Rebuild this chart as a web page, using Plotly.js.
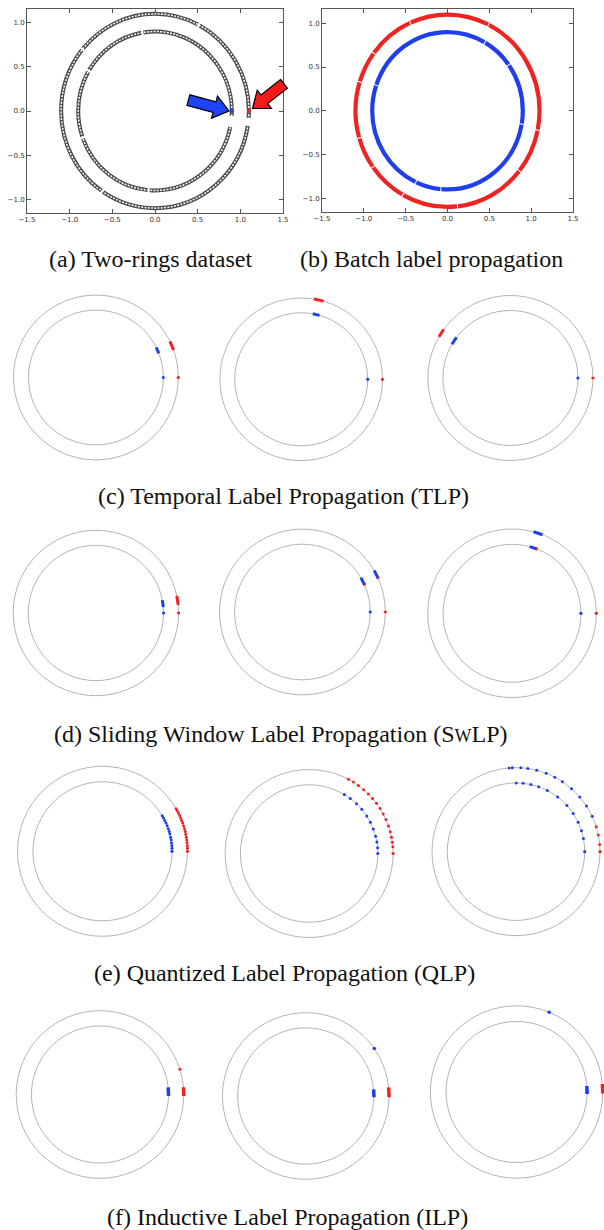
<!DOCTYPE html>
<html><head><meta charset="utf-8">
<script src="https://cdn.plot.ly/plotly-3.0.1.min.js"></script>
<style>html,body{margin:0;padding:0;background:#fff}#fig{width:604px;height:1230px}</style>
</head><body><div id="fig"></div>
<script>
// ---------- data (angles in degrees, radii in data units) ----------
const ringRadii = [0.9, 1.1];              // inner ring, outer ring
const labeledAngle = [0];                  // one labelled point per ring
const axisTickVals = [-1.5, -1.0, -0.5, 0.0, 0.5, 1.0, 1.5];
const axisTickText = ["\u22121.5", "\u22121.0", "\u22120.5", "0.0", "0.5", "1.0", "1.5"];
const yTickVals = [-1.0, -0.5, 0.0, 0.5, 1.0];
const yTickText = ["\u22121.0", "\u22120.5", "0.0", "0.5", "1.0"];

// (c) Temporal Label Propagation: three snapshots
const tlpOuterRed  = [[19.5, 22.5, 26], [74, 77.5, 81], [144, 147, 150]];
const tlpInnerBlue = [[21, 23.5, 26.5], [74, 77, 80], [143, 146.5, 150]];

// (d) Sliding Window Label Propagation
const swlpOuterRed  = [[5.5, 9, 12], [23.5, 25.5], []];
const swlpOuterBlue = [[], [24.5, 27, 30], [68.8, 72, 75.2]];
const swlpInnerRed  = [[], [23, 25], [68.2, 69.8]];
const swlpInnerBlue = [[5, 8, 11], [24, 27, 30.5], [69.5, 72, 75.1]];

// (e) Quantized Label Propagation (individual quantized points)
const qlpOuterRed = [
  [2, 3.8, 5.8, 7.7, 9.5, 11.5, 13.4, 15.3, 17.4, 19.4, 21.3, 23.1, 25, 26.8, 28.5, 30],
  [4.6, 7.7, 11.1, 15, 19.1, 23.8, 28.1, 32.3, 36.7, 41, 45.2, 49.5, 54.1, 58.2, 62],
  [5, 11.5, 17.3]];
const qlpOuterBlue = [[], [], [24.9, 32.9, 40.6, 48.6, 56.5, 62.5, 68.9, 75.7, 81.9, 86.7, 92.5, 94.7]];
const qlpInnerBlue = [
  [2.5, 4.7, 7.1, 9.5, 11.7, 14.3, 16.5, 18.9, 21.5, 24, 26.4, 28.7, 30.8],
  [4.9, 9.6, 14.6, 20.9, 27, 33, 40, 46.4, 53.2, 59.2],
  [11, 17.8, 25.3, 33.7, 42.2, 52.7, 62.9, 70.7, 77.5, 84, 89.8]];

// (f) Inductive Label Propagation
const ilpOuterRedSeg  = [[-1, 2, 5], [-0.5, 3, 6], [-0.9, 2, 5.3]];
const ilpInnerBlueSeg = [[-1, 2.5, 6], [-0.6, 2.5, 5.6], [-1.6, 1.5, 4.9]];
const ilpOuterRedDot  = [[17.6], [], []];
const ilpOuterBlueDot = [[], [34.7], [67.8]];

const captions = [
  "(a) Two-rings dataset",
  "(b) Batch label propagation",
  "(c) Temporal Label Propagation (TLP)",
  "(d) Sliding Window Label Propagation (S<span style='font-size:18px'>W</span>LP)",
  "(e) Quantized Label Propagation (QLP)",
  "(f) Inductive Label Propagation (ILP)"];

// ---------- layout helpers ----------
const W = 604, H = 1230;
const RED = '#f02222', BLUE = '#1f3ef0', RING = '#b4b4b4';
const fx = v => v / W, fy = v => 1 - v / H;
const ax = n => (n === 1 ? '' : String(n));

// panel centres / outer-ring pixel radius (layout only)
const panelGeom = [
  [95.9, 377.5, 82.4], [301.2, 379.3, 81.3], [510.4, 378, 82.5],
  [95.9, 613, 82.7], [302.4, 612, 82.9], [512, 613.3, 84.3],
  [102.5, 851.3, 85], [309.1, 853.5, 84], [516, 851.7, 84],
  [100, 1094.5, 83.8], [305.8, 1096, 83.3], [516.6, 1092, 86.2]];
const captionPos = [[150, 259], [431, 259], [283, 496], [281, 734], [284, 973], [287, 1217]];

const traces = [];
const shapes = [];
const layout = {
  width: W, height: H, margin: {l: 0, r: 0, t: 0, b: 0},
  paper_bgcolor: '#fff', plot_bgcolor: 'rgba(0,0,0,0)', showlegend: false,
  shapes: shapes, annotations: []
};

function pol(r, angs) {
  return {x: angs.map(a => r * Math.cos(a * Math.PI / 180)),
          y: angs.map(a => r * Math.sin(a * Math.PI / 180))};
}
function arc(n, r, angs, color, w) {
  if (!angs.length) return;
  const p = pol(r, angs);
  traces.push({type: 'scatter', mode: 'lines', x: p.x, y: p.y, xaxis: 'x' + ax(n), yaxis: 'y' + ax(n),
    line: {color: color, width: w}, hoverinfo: 'skip', cliponaxis: true});
}
function dots(n, r, angs, color, size) {
  if (!angs.length) return;
  const p = pol(r, angs);
  traces.push({type: 'scatter', mode: 'markers', x: p.x, y: p.y, xaxis: 'x' + ax(n), yaxis: 'y' + ax(n),
    marker: {color: color, size: size, line: {width: 0}}, hoverinfo: 'skip', cliponaxis: true});
}
function ring(n, r, color, width, dash) {
  shapes.push({type: 'circle', xref: 'x' + ax(n), yref: 'y' + ax(n), x0: -r, x1: r, y0: -r, y1: r,
    line: {color: color, width: width, dash: dash || 'solid'}, layer: 'below'});
}

// ---------- (a) and (b): framed axes ----------
function framedAxes(n, x0, x1, y0, y1, yr) {
  const common = {showline: true, mirror: 'ticks', linecolor: '#555', linewidth: 1, ticks: 'inside',
    ticklen: 4, tickcolor: '#555', showgrid: false, zeroline: false, fixedrange: true,
    tickfont: {family: 'DejaVu Sans', size: 7, color: '#333'}};
  layout['xaxis' + ax(n)] = Object.assign({}, common, {domain: [fx(x0), fx(x1)], range: [-1.5, 1.5],
    anchor: 'y' + ax(n), tickmode: 'array', tickvals: axisTickVals, ticktext: axisTickText});
  layout['yaxis' + ax(n)] = Object.assign({}, common, {domain: [fy(y1), fy(y0)], range: yr,
    anchor: 'x' + ax(n), tickmode: 'array', tickvals: yTickVals, ticktext: yTickText});
}
framedAxes(1, 27, 283, 9, 213, [-1.155, 1.155]);
framedAxes(2, 322, 573, 9.3, 212, [-1.158, 1.16]);

// (a) rings drawn as a chain of hollow points
ring(1, ringRadii[1], '#4a4a4a', 4, '7px,8px,190px,2px,158px,2px,127px,2px,300px');
ring(1, ringRadii[0], '#4a4a4a', 4, '5px,11px,112px,2px,87px,2px,67px,2px,66px,2px,300px');
ring(1, ringRadii[1], '#ffffff', 1.5, '2px,1.3px');
ring(1, ringRadii[0], '#ffffff', 1.5, '2px,1.3px');
dots(1, ringRadii[0], labeledAngle, BLUE, 4);
dots(1, ringRadii[1], labeledAngle, RED, 4);

// (b) batch result: whole rings coloured
ring(2, ringRadii[1], RED, 4.2, '19px,1px,44px,1px,72px,1px,56px,1px,40px,1px,31px,1px,56px,1px,31px,1px,47px,1px,80px,1px,300px');
ring(2, ringRadii[0], BLUE, 4.2, '13px,1px,113px,1px,25px,1px,113px,1px,133px,1px,32px,1px,300px');

// arrows in (a) (pixel geometry -> paper fractions)
function arrowPath(tipX, tipY, angDeg, L, bw, hw, hl) {
  const a = angDeg * Math.PI / 180, ux = Math.cos(a), uy = Math.sin(a), vx = -uy, vy = ux;
  const tx = tipX - L * ux, ty = tipY - L * uy;           // tail centre
  const bx = tipX - hl * ux, by = tipY - hl * uy;         // head base centre
  const pts = [
    [tx + vx * bw / 2, ty + vy * bw / 2], [bx + vx * bw / 2, by + vy * bw / 2],
    [bx + vx * hw / 2, by + vy * hw / 2], [tipX, tipY],
    [bx - vx * hw / 2, by - vy * hw / 2], [bx - vx * bw / 2, by - vy * bw / 2],
    [tx - vx * bw / 2, ty - vy * bw / 2]];
  return 'M ' + pts.map(p => fx(p[0]).toFixed(5) + ',' + fy(p[1]).toFixed(5)).join(' L ') + ' Z';
}
shapes.push({type: 'path', xref: 'paper', yref: 'paper', path: arrowPath(229, 111, 15, 42, 11, 23, 15),
  fillcolor: '#1f44f5', line: {color: '#000', width: 1.2}, layer: 'above'});
shapes.push({type: 'path', xref: 'paper', yref: 'paper', path: arrowPath(252.5, 108.5, 142, 40, 11, 23, 15),
  fillcolor: '#f21a1a', line: {color: '#000', width: 1.2}, layer: 'above'});

// ---------- (c)-(f): ring panels ----------
panelGeom.forEach((g, p) => {
  const n = p + 3, [cx, cy, R] = g, s = R / ringRadii[1];
  const xl = Math.max(0, cx - 100), xr = Math.min(W, cx + 100);
  layout['xaxis' + ax(n)] = {domain: [fx(xl), fx(xr)], range: [(xl - cx) / s, (xr - cx) / s],
    visible: false, fixedrange: true, anchor: 'y' + ax(n)};
  layout['yaxis' + ax(n)] = {domain: [fy(cy + 100), fy(cy - 100)], range: [-100 / s, 100 / s],
    visible: false, fixedrange: true, anchor: 'x' + ax(n)};
  ring(n, ringRadii[1], RING, 1);
  ring(n, ringRadii[0], RING, 1);
  const row = Math.floor(p / 3), j = p % 3;
  if (row === 0) {
    arc(n, ringRadii[1], tlpOuterRed[j], RED, 3);
    arc(n, ringRadii[0], tlpInnerBlue[j], BLUE, 3);
  } else if (row === 1) {
    arc(n, ringRadii[1], swlpOuterRed[j], RED, 3);
    arc(n, ringRadii[1], swlpOuterBlue[j], BLUE, 3);
    arc(n, ringRadii[0], swlpInnerRed[j], RED, 3);
    arc(n, ringRadii[0], swlpInnerBlue[j], BLUE, 3);
  } else if (row === 2) {
    dots(n, ringRadii[1], qlpOuterRed[j], RED, 3);
    dots(n, ringRadii[1], qlpOuterBlue[j], BLUE, 3);
    dots(n, ringRadii[0], qlpInnerBlue[j], BLUE, 3);
  } else {
    arc(n, ringRadii[1], ilpOuterRedSeg[j], RED, 3.5);
    arc(n, ringRadii[0], ilpInnerBlueSeg[j], BLUE, 3.5);
    dots(n, ringRadii[1], ilpOuterRedDot[j], RED, 3);
    dots(n, ringRadii[1], ilpOuterBlueDot[j], BLUE, 3.5);
  }
  dots(n, ringRadii[0], labeledAngle, BLUE, 3.2);
  dots(n, ringRadii[1], labeledAngle, RED, 3.2);
});

// ---------- captions ----------
captions.forEach((t, i) => {
  layout.annotations.push({text: t, xref: 'paper', yref: 'paper', x: fx(captionPos[i][0]), y: fy(captionPos[i][1]),
    xanchor: 'center', yanchor: 'middle', showarrow: false,
    font: {family: 'Liberation Serif, Times New Roman, serif', size: 24, color: '#111'}});
});

Plotly.newPlot('fig', traces, layout, {staticPlot: true, displayModeBar: false});
</script>
</body></html>
